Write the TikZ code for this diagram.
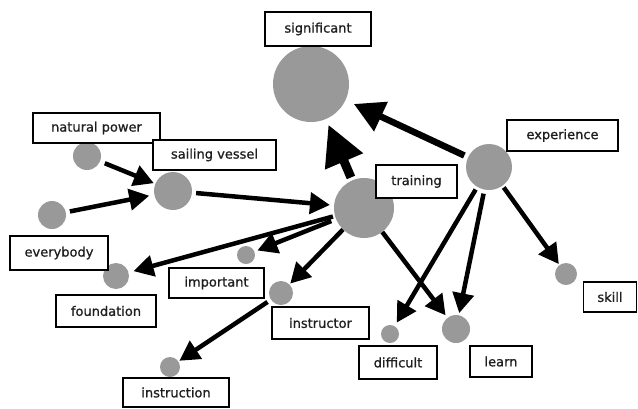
\documentclass[tikz,border=0pt]{standalone}
\usepackage{fontspec}
\usetikzlibrary{arrows.meta}
\newfontfamily\lblfont[FakeBold=0.8]{DejaVu Sans}
\definecolor{dotgray}{RGB}{153,153,153}
\definecolor{txtgray}{RGB}{30,30,30}
\tikzset{
  dot/.style={circle, fill=dotgray, inner sep=0pt, minimum size=#1},
  lbl/.style={draw=black, line width=1.5pt, fill=white, inner sep=0pt,
    font=\lblfont\fontsize{13}{15}\selectfont, text=txtgray},
  arr/.style={-{Triangle[length=20pt,width=21pt]}, line width=4.5pt},
  bigarr/.style={-{Triangle[length=40pt,width=39pt]}, line width=9pt},
  midarr/.style={-{Triangle[length=30pt,width=31pt]}, line width=6.5pt}
}
\begin{document}
\begin{tikzpicture}[x=1pt,y=-1pt]
\useasboundingbox[fill=white] (0,0) rectangle (638,408);
% circles
\node[dot=76pt] (sig) at (311,84) {};
\node[dot=28pt] (nat) at (87,156) {};
\node[dot=38pt] (sail) at (173,191) {};
\node[dot=28pt] (every) at (52,215) {};
\node[dot=26pt] (found) at (116,276) {};
\node[dot=18pt] (imp) at (246,255) {};
\node[dot=24pt] (instr) at (281,293) {};
\node[dot=20pt] (instn) at (170,367) {};
\node[dot=18pt] (diff) at (390,334) {};
\node[dot=28pt] (learn) at (456,329) {};
\node[dot=60pt] (train) at (364,208) {};
\node[dot=46pt] (exp) at (489,167) {};
\node[dot=22pt] (skill) at (566,274) {};
% labels
\node[lbl, minimum width=106pt, minimum height=34pt] (lsig) at (318,29) {significant};
\node[lbl, minimum width=127pt, minimum height=30pt] (lnat) at (96.5,128) {natural power};
\node[lbl, minimum width=123pt, minimum height=30pt] (lsail) at (214.5,155) {sailing vessel};
\node[lbl, minimum width=98pt, minimum height=34pt] (levery) at (59,253) {everybody};
\node[lbl, minimum width=100pt, minimum height=32pt] (lfound) at (106,311) {foundation};
\node[lbl, minimum width=95pt, minimum height=30pt] (limp) at (216.5,283) {important};
\node[lbl, minimum width=97pt, minimum height=32pt] (linstr) at (320.5,323) {instructor};
\node[lbl, minimum width=106pt, minimum height=29pt] (linstn) at (176,392.5) {instruction};
\node[lbl, minimum width=78pt, minimum height=33pt] (ldiff) at (398,362.5) {difficult};
\node[lbl, minimum width=62pt, minimum height=31pt] (llearn) at (501,361.5) {learn};
\node[lbl, minimum width=81pt, minimum height=33pt] (ltrain) at (416.5,181.5) {training};
\node[lbl, minimum width=111pt, minimum height=31pt] (lexp) at (562.5,135.5) {experience};
\node[lbl, minimum width=53pt, minimum height=30pt] (lskill) at (610,297) {skill};
% arrows
\draw[arr, shorten <=5pt, shorten >=1.5pt] (nat) -- (sail);
\draw[arr, shorten <=4pt, shorten >=5pt] (every) -- (sail);
\draw[arr, shorten <=4pt, shorten >=4pt] (sail) -- (train);
\draw[bigarr, shorten <=3pt, shorten >=6pt] (train) -- (sig);
\draw[midarr, shorten <=4pt, shorten >=9pt] (exp) -- (sig);
\draw[arr, shorten <=2pt, shorten >=5pt] (train) -- (found);
\draw[arr, shorten <=5pt, shorten >=3pt] (train) -- (imp);
\draw[arr, shorten <=0pt, shorten >=1pt] (train) -- (instr);
\draw[arr, shorten <=4pt, shorten >=1pt] (instr) -- (instn);
\draw[arr, shorten <=0pt, shorten >=3pt] (train) -- (learn);
\draw[arr, shorten <=3pt, shorten >=4pt] (exp) -- (diff);
\draw[arr, shorten <=4pt, shorten >=2pt] (exp) -- (learn);
\draw[arr, shorten <=2pt, shorten >=1pt] (exp) -- (skill);
\end{tikzpicture}
\end{document}
